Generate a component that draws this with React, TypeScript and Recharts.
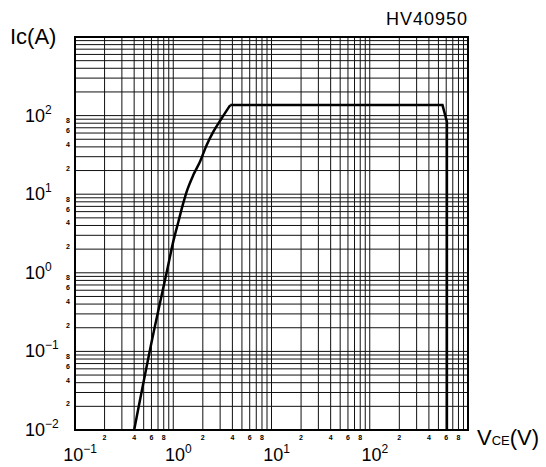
import { LineChart, Line, XAxis, YAxis, CartesianGrid, ReferenceArea } from 'recharts';

// --- Data ---
const vce = [0.4, 0.64, 0.86, 1.0, 1.13, 1.25, 1.37, 1.6, 1.87, 2.19, 2.56, 3.11, 3.8, 550, 610, 610];
const ic = [0.01, 0.19, 1.03, 2.49, 4.5, 7.3, 10.8, 17.5, 25.9, 42.3, 62.4, 92.5, 136, 136, 84, 0.01];

const xDecades = [0.1, 1, 10, 100];
const yDecades = [0.01, 0.1, 1, 10, 100];
const mantissas = [1, 2, 3, 4, 5, 6, 7, 8, 9];
const labelledMinor = [2, 4, 6, 8];

const xTicks = xDecades.flatMap(d => mantissas.map(m => +(m * d).toPrecision(3))).concat(1000);
const yTicks = yDecades.flatMap(d => mantissas.map(m => +(m * d).toPrecision(3))).concat(1000);

const points = vce.map((v, i) => ({ v, ic: ic[i] }));
const rise = points.slice(0, 13); // curved part up to the flat top
const tail = points.slice(12);    // flat top and the drop

const FONT = '"Liberation Sans", Arial, sans-serif';

function split(v: number) {
    const e = Math.floor(Math.log10(v) + 1e-9);
    const m = Math.round(v / Math.pow(10, e));
    return { e, m };
}

function XTick({ x, y, payload }: any) {
    const { e, m } = split(payload.value);
    if (m === 1) {
        if (e > 2) return null;
        return (
            <text x={x + 5} y={y + 31} fontFamily={FONT} fontSize={18} textAnchor="middle" fill="#000">
                10<tspan dy={-8} fontSize={12}>{e < 0 ? `\u2212${-e}` : e}</tspan>
            </text>
        );
    }
    if (!labelledMinor.includes(m)) return null;
    return (
        <text x={x} y={y + 10} fontFamily={FONT} fontSize={7} fontWeight="bold" textAnchor="middle" fill="#000">
            {m}
        </text>
    );
}

function YTick({ x, y, payload }: any) {
    const { e, m } = split(payload.value);
    if (m === 1) {
        if (e > 2) return null;
        return (
            <text x={x - 50} y={y + 6} fontFamily={FONT} fontSize={18} textAnchor="start" fill="#000">
                10<tspan dy={-8} fontSize={12}>{e < 0 ? `\u2212${-e}` : e}</tspan>
            </text>
        );
    }
    // no small labels in the top decade
    if (e > 1 || !labelledMinor.includes(m)) return null;
    return (
        <text x={x - 7} y={y} fontFamily={FONT} fontSize={7} fontWeight="bold" textAnchor="middle" fill="#000">
            {m}
        </text>
    );
}

export default function App() {
    return (
        <div style={{ position: 'absolute', left: 0, top: 0, width: 546, height: 467, background: '#fff', fontFamily: FONT }}>
            <LineChart width={546} height={467} margin={{ top: 37, right: 78, left: 0, bottom: 0 }}>
                <CartesianGrid stroke="#111" strokeWidth={1} />
                <XAxis
                    dataKey="v"
                    type="number"
                    scale="log"
                    domain={[0.1, 1000]}
                    allowDataOverflow
                    ticks={xTicks}
                    interval={0}
                    height={37}
                    tickSize={0}
                    tickMargin={0}
                    tickLine={false}
                    axisLine={{ stroke: '#000', strokeWidth: 2 }}
                    tick={<XTick />}
                />
                <YAxis
                    type="number"
                    scale="log"
                    domain={[0.01, 1000]}
                    allowDataOverflow
                    ticks={yTicks}
                    interval={0}
                    width={75}
                    tickSize={0}
                    tickMargin={0}
                    tickLine={false}
                    axisLine={{ stroke: '#000', strokeWidth: 2 }}
                    tick={<YTick />}
                />
                <ReferenceArea x1={0.1} x2={1000} y1={0.01} y2={1000} fill="none" stroke="#000" strokeWidth={2} ifOverflow="visible" />
                <Line
                    data={rise}
                    type="monotone"
                    dataKey="ic"
                    stroke="#000"
                    strokeWidth={2.5}
                    dot={false}
                    isAnimationActive={false}
                />
                <Line
                    data={tail}
                    type="linear"
                    dataKey="ic"
                    stroke="#000"
                    strokeWidth={2.5}
                    dot={false}
                    isAnimationActive={false}
                />
            </LineChart>
            <div style={{ position: 'absolute', left: 10, top: 24, fontSize: 22, lineHeight: '26px', color: '#000' }}>
                Ic(A)
            </div>
            <div style={{ position: 'absolute', left: 386, top: 8, fontSize: 18, lineHeight: '22px', letterSpacing: 1, color: '#000' }}>
                HV40950
            </div>
            <div style={{ position: 'absolute', left: 477, top: 426, fontSize: 22, lineHeight: '24px', color: '#000', whiteSpace: 'nowrap' }}>
                V<span style={{ fontSize: 13 }}>CE</span>(V)
            </div>
        </div>
    );
}
